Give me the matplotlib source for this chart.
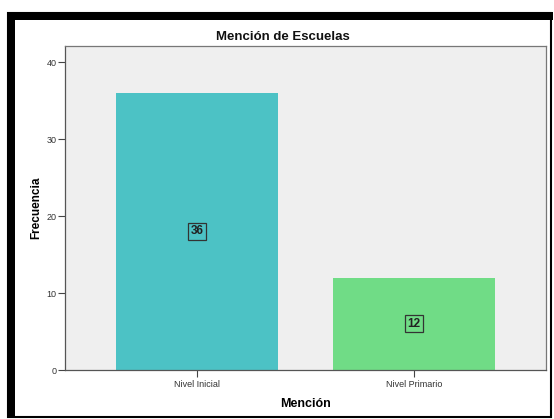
import matplotlib
matplotlib.use('Agg')
import matplotlib.pyplot as plt
from matplotlib.patches import Rectangle

# data
categories = ['Nivel Inicial', 'Nivel Primario']
frecuencias = [36, 12]
colores = ['#4cc2c5', '#70dc86']
yticks = [0, 10, 20, 30, 40]

plt.rcParams['font.family'] = ['Liberation Sans', 'DejaVu Sans']

fig = plt.figure(figsize=(5.54, 4.19), dpi=100)
W, H = 554, 419

# outer frame (screenshot style border)
fig.patches.append(Rectangle((8 / W, 2 / H), 543 / W, 404 / H, transform=fig.transFigure,
                             fill=False, edgecolor='black', linewidth=1.5))
fig.patches.append(Rectangle((7 / W, 2 / H), 8 / W, 405 / H, transform=fig.transFigure,
                             facecolor='black', edgecolor='none'))
fig.patches.append(Rectangle((7 / W, (H - 20) / H), 546 / W, 8 / H, transform=fig.transFigure,
                             facecolor='black', edgecolor='none'))

ax = fig.add_axes([65 / W, (H - 370) / H, (546 - 65) / W, (370 - 46) / H])
ax.set_facecolor('#efefef')
x = list(range(len(categories)))
ax.bar(x, frecuencias, width=0.75, color=colores, edgecolor='none', zorder=2)

for xi, v, c in zip(x, frecuencias, colores):
    ax.text(xi, v / 2, str(v), ha='center', va='center', fontsize=8.5, fontweight='bold',
            color='#222222', zorder=3,
            bbox=dict(boxstyle='square,pad=0.22', facecolor=c, edgecolor='#333333', linewidth=0.9))

ax.set_xlim(-0.608, 1.608)
ax.set_ylim(0, 42.1)
ax.set_yticks(yticks)
ax.set_xticks(x)
ax.set_xticklabels(categories)
ax.tick_params(axis='both', labelsize=6.5, colors='#444444', length=5, width=0.8, labelcolor='#333333')
ax.tick_params(axis='y', pad=1)
ax.tick_params(axis='x', pad=2)
for s in ax.spines.values():
    s.set_color('#777777')
    s.set_linewidth(0.9)
ax.spines['left'].set_color('#555555')
ax.spines['bottom'].set_color('#555555')

ax.set_xlabel('Mención', fontsize=9, fontweight='bold', labelpad=7)
ax.set_ylabel('Frecuencia', fontsize=8.5, fontweight='bold', labelpad=3)
fig.text(283 / W, (H - 37) / H, 'Mención de Escuelas', ha='center', va='center',
         fontsize=9.5, fontweight='bold', color='#111111')

fig.savefig('out.png', dpi=100)
